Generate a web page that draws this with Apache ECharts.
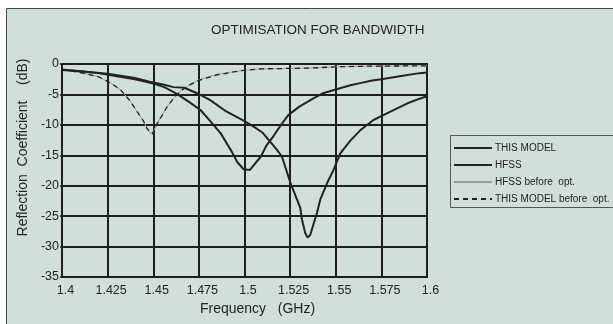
<!DOCTYPE html>
<html><head><meta charset="utf-8">
<script src="https://cdn.jsdelivr.net/npm/echarts@6/dist/echarts.min.js"></script>
<style>html,body{margin:0;padding:0;background:#fff}#c{width:613px;height:324px}</style>
</head><body><div id="c"></div>
<script>
const xTickLabels = ['1.4','1.425','1.45','1.475','1.5','1.525','1.55','1.575','1.6'];
const yTickLabels = ['-35','-30','-25','-20','-15','-10','-5','0'];
const seriesNames = ['THIS MODEL','HFSS','HFSS before  opt.','THIS MODEL before  opt.'];

const freqModel = [1.400,1.410,1.420,1.430,1.440,1.450,1.456,1.463,1.470,1.476,1.481,1.487,1.490,1.493,1.496,1.4995,1.503,1.506,1.509,1.512,1.516,1.520,1.524,1.530,1.538,1.543,1.551,1.558,1.564,1.570,1.575,1.585,1.596,1.600];
const dbModel   = [-0.9,-1.2,-1.5,-2.0,-2.5,-3.2,-3.8,-4.9,-6.3,-7.6,-9.3,-11.4,-12.9,-14.4,-16.1,-17.3,-17.4,-16.3,-15.2,-13.4,-11.8,-10.0,-8.4,-7.0,-5.6,-4.8,-4.1,-3.5,-3.1,-2.7,-2.5,-2.0,-1.5,-1.4];

const freqHfss = [1.400,1.410,1.425,1.440,1.448,1.456,1.461,1.467,1.474,1.481,1.490,1.500,1.505,1.510,1.5178,1.5205,1.522,1.525,1.5288,1.5306,1.5315,1.5333,1.5346,1.536,1.5379,1.5397,1.5415,1.5452,1.5488,1.5525,1.558,1.5634,1.5707,1.578,1.589,1.596,1.600];
const dbHfss   = [-1.0,-1.2,-1.6,-2.3,-2.9,-3.4,-3.8,-3.9,-4.8,-5.9,-7.8,-9.4,-10.3,-11.3,-14.1,-15.2,-16.6,-19.4,-22.3,-23.7,-25.6,-27.8,-28.5,-28.1,-26.2,-24.5,-22.3,-19.6,-17.4,-14.7,-12.6,-10.9,-9.2,-8.1,-6.5,-5.7,-5.3];

const freqHfssBefore = [1.400,1.410,1.420,1.4265,1.432,1.4374,1.4411,1.4447,1.4466,1.448,1.450,1.4525,1.4578,1.4615,1.465,1.4705,1.476,1.485,1.498,1.509,1.520,1.538,1.551,1.570,1.600];
const dbHfssBefore   = [-0.9,-1.4,-2.1,-3.1,-4.2,-6.1,-7.8,-9.4,-10.6,-11.3,-11.2,-9.6,-6.9,-5.5,-4.4,-3.3,-2.5,-1.7,-1.1,-0.8,-0.75,-0.65,-0.45,-0.35,-0.3];

const freqModelBefore = [1.400,1.410,1.420,1.4265,1.432,1.4374,1.4411,1.4447,1.4466,1.4495,1.4521,1.4575,1.4612,1.4648,1.4685,1.4703,1.4758,1.4849,1.4977,1.5087,1.520,1.5379,1.5507,1.570,1.600];
const dbModelBefore   = [-0.9,-1.4,-2.1,-3.1,-4.2,-6.1,-7.8,-9.4,-10.6,-11.5,-9.8,-7.1,-5.6,-4.5,-3.7,-3.4,-2.6,-1.8,-1.1,-0.8,-0.75,-0.65,-0.45,-0.35,-0.3];

function pairs(xs, ys){ return xs.map((x,i)=>[x, ys[i]]); }

const chart = echarts.init(document.getElementById('c'), null, {renderer:'canvas'});
const FONT = '"Liberation Sans", Arial, sans-serif';
const DARK = '#1e1e1e';

chart.setOption({
  backgroundColor: '#fff',
  animation: false,
  title: {
    text: 'OPTIMISATION FOR BANDWIDTH',
    left: 206, top: 18,
    textStyle: {fontFamily: FONT, fontSize: 13.5, fontWeight: 'normal', color: '#222'}
  },
  graphic: [
    {type:'rect', z:-10, silent:true, shape:{x:6.5,y:8.5,width:620,height:330},
     style:{fill:'#d0dfd9', stroke:'#444', lineWidth:1}},
    {type:'rect', z:5, silent:true, shape:{x:450.5,y:135.5,width:180,height:72},
     style:{fill:'none', stroke:'#555', lineWidth:1}}
  ],
  legend: {
    orient: 'vertical',
    left: 448, top: 138,
    itemWidth: 38, itemHeight: 10, itemGap: 7,
    data: seriesNames,
    itemStyle: {opacity: 0},
    textStyle: {fontFamily: FONT, fontSize: 10, color: '#222', padding:[0,0,0,-2]}
  },
  grid: {left: 62, right: 186, top: 64, bottom: 47, show: true, borderColor: DARK, borderWidth: 2, backgroundColor: 'transparent'},
  xAxis: {
    type: 'value', min: 1.4, max: 1.6, interval: 0.025,
    name: 'Frequency   (GHz)', nameLocation: 'middle', nameGap: 23,
    nameTextStyle: {fontFamily: FONT, fontSize: 14, color: '#222', padding:[0,0,0,26]},
    axisLine: {show: true, lineStyle: {color: DARK, width: 2}},
    axisTick: {show: false},
    axisLabel: {fontFamily: FONT, fontSize: 12.5, color: '#222', margin: 7, padding:[0,0,0,7],
      formatter: v => xTickLabels[Math.round((v - 1.4) / 0.025)]},
    splitLine: {show: true, lineStyle: {color: DARK, width: 2}}
  },
  yAxis: {
    type: 'value', min: -35, max: 0, interval: 5,
    name: 'Reflection  Coefficient    (dB)', nameLocation: 'middle', nameGap: 26, nameRotate: 90,
    nameTextStyle: {fontFamily: FONT, fontSize: 14, color: '#222', padding:[0,0,0,46]},
    axisLine: {show: true, lineStyle: {color: DARK, width: 2}},
    axisTick: {show: true, length: 2, lineStyle: {color: DARK, width: 1.5}},
    axisLabel: {fontFamily: FONT, fontSize: 12.5, color: '#222', margin: 3,
      formatter: v => yTickLabels[Math.round((v + 35) / 5)]},
    splitLine: {show: true, lineStyle: {color: DARK, width: 2}}
  },
  series: [
    {name: seriesNames[0], type: 'line', data: pairs(freqModel, dbModel), symbol: 'none', z: 4,
     lineStyle: {color: '#222', width: 2}, itemStyle: {color: '#222'}},
    {name: seriesNames[1], type: 'line', data: pairs(freqHfss, dbHfss), symbol: 'none', z: 4,
     lineStyle: {color: '#222', width: 2}, itemStyle: {color: '#222'}},
    {name: seriesNames[2], type: 'line', data: pairs(freqHfssBefore, dbHfssBefore), symbol: 'none', z: 2,
     lineStyle: {color: '#9a9a9a', width: 1}, itemStyle: {color: '#9a9a9a'}},
    {name: seriesNames[3], type: 'line', data: pairs(freqModelBefore, dbModelBefore), symbol: 'none', z: 3,
     lineStyle: {color: '#222', width: 1.3, type: [5,4]}, itemStyle: {color: '#222'}}
  ]
});
</script></body></html>
